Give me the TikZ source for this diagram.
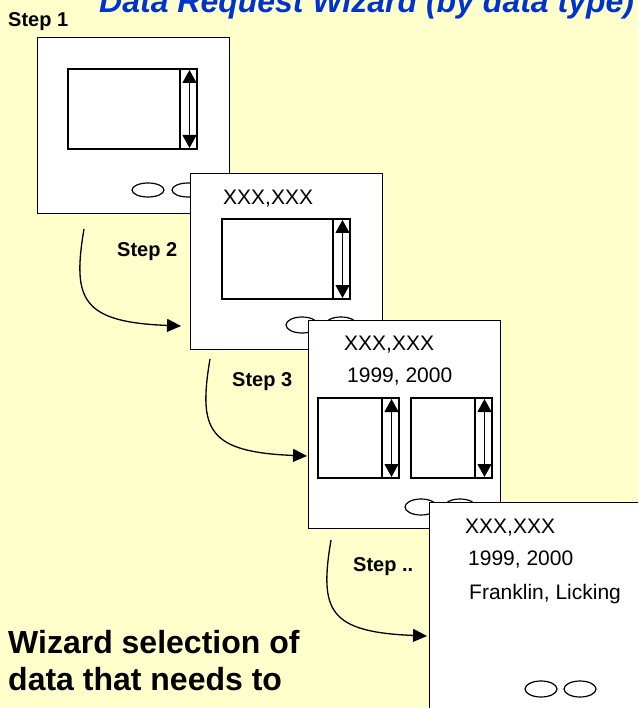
\documentclass[tikz,border=0pt]{standalone}
\usepackage{fontspec}
\setmainfont{Liberation Sans}
\usetikzlibrary{arrows.meta}

\definecolor{paper}{RGB}{255,255,204}
\definecolor{titleblue}{RGB}{0,51,204}

% list box with a scroll bar: x1,y1,x2,y2
\newcommand{\scrolllist}[4]{%
  \draw[listbox] (#1,#2) rectangle (#3,#4);
  \draw[listbox] ({#3-17},#2) -- ({#3-17},#4);
  \draw[scroll] ({#3-7.5},{#2+1}) -- ({#3-7.5},{#4-1});
}

\begin{document}
\begin{tikzpicture}
[x=1pt,y=-1pt,>={Triangle[length=14pt,width=13pt]},
screen/.style={draw,fill=white,line width=1.4pt,anchor=north west,inner sep=0pt},
listbox/.style={draw,line width=1.3pt},
scroll/.style={line width=1.1pt,{Triangle[length=13pt,width=14pt]}-{Triangle[length=13pt,width=14pt]}},
oval/.style={line width=1.2pt},
txt/.style={anchor=base west,inner sep=0pt,font=\fontsize{21}{25}\selectfont},
steplabel/.style={anchor=base west,inner sep=0pt,font=\fontsize{20}{24}\selectfont\bfseries},
flow/.style={->,line width=1.3pt},]

%Background
\clip (0,0) rectangle (638,708);
\fill[paper] (0,0) rectangle (638,708);

%Title
\node[anchor=base west,inner sep=0pt,text=titleblue,font=\fontsize{32}{36}\selectfont\bfseries\itshape] (title) at (99,13) {Data Request Wizard (by data type)};

%Step labels
\node[steplabel] (L1) at (8,27) {Step 1};
\node[steplabel] (L2) at (117,256) {Step 2};
\node[steplabel] (L3) at (232,386) {Step 3};
\node[steplabel] (L4) at (353,571) {Step ..};

%Screen 1
\node[screen,minimum width=192pt,minimum height=176pt] (S1) at (37,37) {};
\scrolllist{68}{69}{197}{149}
\draw[oval] (148,190) ellipse [x radius=16pt,y radius=7pt];
\draw[oval] (188,190) ellipse [x radius=16pt,y radius=7pt];

%Screen 2
\node[screen,minimum width=192pt,minimum height=176pt] (S2) at (190,173) {};
\node[txt] (S2a) at (223,205) {XXX,XXX};
\scrolllist{222}{219}{350}{299}
\draw[oval] (302,325) ellipse [x radius=16pt,y radius=8pt];
\draw[oval] (341,325) ellipse [x radius=16pt,y radius=8pt];

%Screen 3
\node[screen,minimum width=192pt,minimum height=208pt] (S3) at (308,320) {};
\node[txt] (S3a) at (344,350) {XXX,XXX};
\node[txt] (S3b) at (347,382) {1999, 2000};
\scrolllist{318}{398}{399}{478}
\scrolllist{411}{398}{492}{478}
\draw[oval] (421,507) ellipse [x radius=16pt,y radius=8pt];
\draw[oval] (460,507) ellipse [x radius=16pt,y radius=8pt];

%Screen 4
\node[screen,minimum width=240pt,minimum height=240pt] (S4) at (429,502) {};
\node[txt] (S4a) at (465,533) {XXX,XXX};
\node[txt] (S4b) at (468,565) {1999, 2000};
\node[txt] (S4c) at (469,599) {Franklin, Licking};
\draw[oval] (541,689) ellipse [x radius=16pt,y radius=8pt];
\draw[oval] (580,689) ellipse [x radius=16pt,y radius=8pt];

%Arrows between steps
\coordinate (A1) at (84,229);
\coordinate (B1) at (181,326);
\coordinate (A2) at (210,359);
\coordinate (B2) at (307,456);
\coordinate (A3) at (331,540);
\coordinate (B3) at (427,636);
\draw[flow] (A1) .. controls (72,300) and (82,322) .. (B1);
\draw[flow] (A2) .. controls (198,430) and (208,452) .. (B2);
\draw[flow] (A3) .. controls (319,611) and (329,632) .. (B3);

%Bottom text
\node[anchor=base west,inner sep=0pt,align=left,font=\fontsize{32}{37}\selectfont\bfseries] (note) at (8,690) {Wizard selection of\\data that needs to};

\end{tikzpicture}
\end{document}
